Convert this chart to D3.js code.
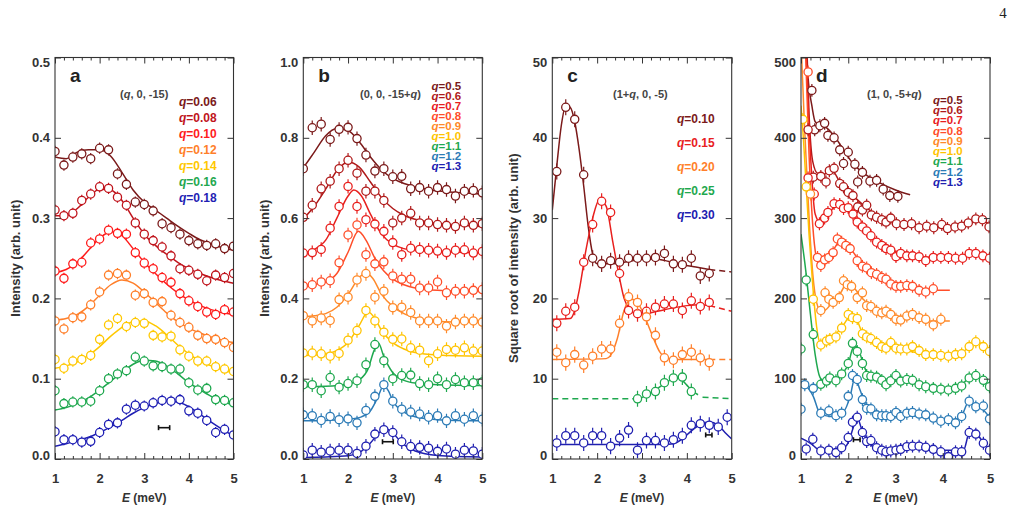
<!DOCTYPE html>
<html>
<head>
<meta charset="utf-8">
<script src="https://cdn.jsdelivr.net/npm/d3@7"></script>
<style>
    body { margin: 0; background: #fff; }
    svg { display: block; font-family: "Liberation Sans", Arial, sans-serif; }
</style>
</head>
<body>
<div id="chart-area"></div>
<script>
// ---------- shared ticks ----------
const xTicks = [1, 2, 3, 4, 5];
const xMinorTicks = [1.2, 1.4, 1.6, 1.8, 2.2, 2.4, 2.6, 2.8, 3.2, 3.4, 3.6, 3.8, 4.2, 4.4, 4.6, 4.8];

// ---------- panel a : (q, 0, -15) ----------
const aLabels = ['0.06', '0.08', '0.10', '0.12', '0.14', '0.16', '0.18'];
const aColors = ['#7b1a1a', '#c0141c', '#ff1c1c', '#ff7f2a', '#ffc800', '#1fa84f', '#1f1fb4'];
const aTicks = [0, 0.1, 0.2, 0.3, 0.4, 0.5];
const aEnergy = [1.0, 1.2, 1.4, 1.6, 1.8, 2.0, 2.2, 2.4, 2.6, 2.8, 3.0, 3.2, 3.4, 3.6, 3.8, 4.0, 4.2, 4.4, 4.6, 4.8, 5.0];
const aPoints = [
    [0.383, 0.366, 0.376, 0.380, 0.374, 0.387, 0.385, 0.355, 0.342, 0.320, 0.317, 0.309, 0.293, 0.288, 0.280, 0.272, 0.268, 0.266, 0.268, 0.262, 0.265],
    [0.310, 0.303, 0.306, 0.322, 0.330, 0.339, 0.337, 0.326, 0.316, 0.294, 0.280, 0.272, 0.264, 0.253, 0.237, 0.235, 0.230, 0.222, 0.229, 0.226, 0.231],
    [0.234, 0.225, 0.243, 0.245, 0.269, 0.274, 0.285, 0.281, 0.280, 0.257, 0.244, 0.237, 0.226, 0.220, 0.206, 0.197, 0.190, 0.183, 0.180, 0.186, 0.183],
    [0.172, 0.162, 0.176, 0.177, 0.192, 0.208, 0.229, 0.231, 0.229, 0.204, 0.206, 0.195, 0.196, 0.179, 0.170, 0.164, 0.154, 0.150, 0.149, 0.145, 0.139],
    [0.124, 0.113, 0.122, 0.124, 0.129, 0.149, 0.167, 0.175, 0.165, 0.170, 0.169, 0.154, 0.152, 0.153, 0.136, 0.128, 0.122, 0.122, 0.115, 0.112, 0.109],
    [0.085, 0.069, 0.071, 0.071, 0.072, 0.085, 0.100, 0.106, 0.110, 0.127, 0.122, 0.116, 0.115, 0.112, 0.112, 0.095, 0.086, 0.088, 0.074, 0.073, 0.070],
    [0.034, 0.024, 0.024, 0.021, 0.022, 0.033, 0.043, 0.045, 0.062, 0.067, 0.066, 0.070, 0.073, 0.072, 0.074, 0.060, 0.057, 0.048, 0.033, 0.037, 0.030]
];
const aFitEnergy = [1.0, 1.25, 1.5, 1.75, 2.0, 2.25, 2.5, 2.75, 3.0, 3.25, 3.5, 3.75, 4.0, 4.25, 4.5, 4.75, 5.0];
const aFits = [
    [0.376, 0.374, 0.382, 0.385, 0.385, 0.377, 0.357, 0.335, 0.320, 0.310, 0.300, 0.290, 0.281, 0.273, 0.268, 0.263, 0.260],
    [0.303, 0.303, 0.312, 0.326, 0.336, 0.335, 0.322, 0.300, 0.280, 0.266, 0.255, 0.245, 0.237, 0.231, 0.226, 0.222, 0.219],
    [0.232, 0.236, 0.245, 0.260, 0.275, 0.283, 0.278, 0.262, 0.245, 0.231, 0.218, 0.207, 0.198, 0.191, 0.186, 0.182, 0.180],
    [0.173, 0.175, 0.180, 0.190, 0.204, 0.217, 0.223, 0.219, 0.208, 0.195, 0.182, 0.171, 0.163, 0.157, 0.152, 0.148, 0.145],
    [0.113, 0.116, 0.121, 0.129, 0.140, 0.153, 0.164, 0.171, 0.172, 0.166, 0.155, 0.142, 0.131, 0.122, 0.116, 0.111, 0.107],
    [0.061, 0.064, 0.069, 0.076, 0.086, 0.097, 0.108, 0.118, 0.123, 0.122, 0.116, 0.106, 0.095, 0.086, 0.078, 0.072, 0.067],
    [0.016, 0.019, 0.023, 0.027, 0.033, 0.040, 0.048, 0.057, 0.064, 0.069, 0.072, 0.071, 0.065, 0.056, 0.046, 0.037, 0.029]
];

// ---------- panel b : (0, 0, -15+q) ----------
const bLabels = ['0.5', '0.6', '0.7', '0.8', '0.9', '1.0', '1.1', '1.2', '1.3'];
const bColors = ['#7b1a1a', '#b01a1a', '#e8201e', '#ff4e2a', '#ff8a2a', '#ffc300', '#1fa84f', '#2c7bb6', '#2020b0'];
const bTicks = [0, 0.2, 0.4, 0.6, 0.8, 1.0];
const bEnergy = aEnergy;
const bPoints = [
    [0.723, 0.825, 0.834, 0.796, 0.821, 0.826, 0.798, 0.757, 0.717, 0.723, 0.703, 0.704, 0.673, 0.676, 0.667, 0.676, 0.671, 0.655, 0.667, 0.669, 0.663],
    [0.602, 0.632, 0.673, 0.692, 0.723, 0.744, 0.712, 0.667, 0.667, 0.644, 0.588, 0.600, 0.612, 0.588, 0.588, 0.584, 0.582, 0.579, 0.588, 0.582, 0.586],
    [0.513, 0.514, 0.522, 0.575, 0.629, 0.679, 0.629, 0.596, 0.585, 0.567, 0.539, 0.509, 0.525, 0.522, 0.520, 0.518, 0.514, 0.520, 0.521, 0.513, 0.517],
    [0.431, 0.434, 0.441, 0.444, 0.489, 0.558, 0.583, 0.509, 0.486, 0.491, 0.456, 0.448, 0.448, 0.426, 0.426, 0.441, 0.414, 0.418, 0.418, 0.420, 0.422],
    [0.357, 0.344, 0.351, 0.345, 0.397, 0.403, 0.446, 0.462, 0.403, 0.418, 0.377, 0.378, 0.365, 0.344, 0.344, 0.344, 0.331, 0.341, 0.344, 0.344, 0.341],
    [0.264, 0.264, 0.262, 0.256, 0.263, 0.296, 0.320, 0.370, 0.344, 0.316, 0.298, 0.299, 0.277, 0.271, 0.245, 0.262, 0.273, 0.271, 0.277, 0.269, 0.269],
    [0.185, 0.185, 0.170, 0.203, 0.179, 0.188, 0.195, 0.235, 0.285, 0.245, 0.200, 0.208, 0.209, 0.188, 0.185, 0.200, 0.185, 0.198, 0.190, 0.190, 0.192],
    [0.110, 0.108, 0.096, 0.106, 0.098, 0.100, 0.090, 0.121, 0.156, 0.185, 0.144, 0.124, 0.117, 0.112, 0.104, 0.108, 0.095, 0.108, 0.099, 0.108, 0.099],
    [0.010, 0.022, 0.017, 0.020, 0.022, 0.022, 0.014, 0.032, 0.062, 0.073, 0.066, 0.043, 0.031, 0.029, 0.027, 0.019, 0.025, 0.012, 0.022, 0.020, 0.012]
];
const bFits = [
    [[1, 0.725], [1.25, 0.765], [1.5, 0.805], [1.75, 0.823], [2, 0.818], [2.25, 0.79], [2.5, 0.752], [2.75, 0.72], [3, 0.699], [3.25, 0.686], [3.5, 0.678], [3.75, 0.672], [4, 0.668], [4.5, 0.663], [5, 0.66]],
    [[1, 0.598], [1.25, 0.63], [1.5, 0.672], [1.75, 0.718], [2, 0.74], [2.25, 0.727], [2.5, 0.69], [2.75, 0.651], [3, 0.624], [3.25, 0.607], [3.5, 0.597], [4, 0.587], [4.5, 0.582], [5, 0.579]],
    [[1, 0.513], [1.25, 0.522], [1.5, 0.545], [1.75, 0.6], [2, 0.655], [2.13, 0.67], [2.3, 0.655], [2.5, 0.61], [2.75, 0.56], [3, 0.535], [3.25, 0.524], [3.5, 0.519], [4, 0.516], [5, 0.514]],
    [[1, 0.432], [1.25, 0.435], [1.5, 0.441], [1.75, 0.462], [2, 0.515], [2.23, 0.567], [2.4, 0.545], [2.6, 0.5], [2.8, 0.468], [3, 0.448], [3.25, 0.434], [3.5, 0.426], [4, 0.42], [5, 0.417]],
    [[1, 0.355], [1.25, 0.357], [1.5, 0.362], [1.75, 0.378], [2, 0.41], [2.25, 0.452], [2.4, 0.463], [2.55, 0.45], [2.75, 0.41], [3, 0.38], [3.25, 0.362], [3.5, 0.352], [3.75, 0.346], [4, 0.343], [4.5, 0.341], [5, 0.34]],
    [[1, 0.258], [1.25, 0.259], [1.5, 0.262], [1.75, 0.27], [2, 0.29], [2.25, 0.333], [2.45, 0.366], [2.6, 0.35], [2.75, 0.32], [3, 0.29], [3.25, 0.274], [3.5, 0.265], [4, 0.259], [5, 0.256]],
    [[1, 0.18], [1.5, 0.181], [2, 0.187], [2.25, 0.197], [2.45, 0.225], [2.58, 0.27], [2.68, 0.288], [2.8, 0.255], [3, 0.215], [3.25, 0.196], [3.5, 0.189], [4, 0.185], [5, 0.183]],
    [[1, 0.095], [1.5, 0.096], [2, 0.099], [2.3, 0.105], [2.5, 0.12], [2.65, 0.15], [2.8, 0.183], [2.9, 0.17], [3, 0.145], [3.25, 0.117], [3.5, 0.105], [4, 0.098], [5, 0.095]],
    [[1, 0.004], [1.5, 0.005], [2, 0.008], [2.25, 0.016], [2.5, 0.04], [2.7, 0.066], [2.85, 0.075], [3, 0.065], [3.2, 0.04], [3.5, 0.02], [4, 0.009], [5, 0.005]]
];

// ---------- panel c : (1+q, 0, -5), square root of intensity ----------
const cLabels = ['0.10', '0.15', '0.20', '0.25', '0.30'];
const cColors = ['#7b1a1a', '#e8201e', '#ff7f2a', '#1fa84f', '#2020b0'];
const cTicks = [0, 10, 20, 30, 40, 50];
const cEnergy = [1.1, 1.3, 1.5, 1.7, 1.9, 2.1, 2.3, 2.5, 2.7, 2.9, 3.1, 3.3, 3.5, 3.7, 3.9, 4.1, 4.3, 4.5, 4.7, 4.9];
const cPoints = [
    [35.8, 43.8, 42.3, 35.4, 25.0, 24.3, 24.7, 24.5, 25.0, 25.0, 25.0, 25.1, 25.6, 24.3, 24.2, 25.0, 22.8, 23.1, null, null],
    [16.9, 18.4, 18.9, 24.5, 29.2, 32.1, 30.7, 23.1, 18.5, 18.1, 18.4, 18.9, 19.3, 19.3, 18.5, 19.7, 19.0, 19.5, null, null],
    [13.3, 12.0, 13.0, 11.7, 12.8, 13.7, 13.7, 16.9, 20.2, 19.5, 17.7, 15.4, 12.6, 12.3, 13.0, 13.3, 12.6, 12.0, null, null],
    [null, null, null, null, null, null, null, null, null, 7.5, 8.1, 8.4, 9.5, 10.1, 10.2, 8.4, null, null, null, null],
    [2.0, 2.9, 2.9, 2.0, 2.9, 2.9, 1.6, 2.6, 3.6, 1.1, 2.3, 2.3, 2.0, 2.4, 2.9, 4.2, 4.4, 4.2, 4.0, 5.2]
];
const cFits = [
    [[[1.0, 31], [1.1, 36.5], [1.2, 41.5], [1.3, 44.0], [1.4, 43.8], [1.5, 42], [1.6, 38.5], [1.7, 34], [1.8, 29], [1.9, 25.5], [2.0, 24.3], [2.3, 24.3], [2.7, 24.6], [3.0, 24.9], [3.3, 24.9], [3.6, 24.6], [3.9, 24.2], [4.2, 23.9], [4.5, 23.6]]],
    [[[1.0, 17.4], [1.4, 17.5], [1.5, 18.5], [1.6, 21], [1.75, 26], [1.9, 30], [2.05, 32.3], [2.2, 31.5], [2.35, 27], [2.5, 22.5], [2.6, 20], [2.75, 18.5], [2.9, 18.0], [3.1, 18.1], [3.5, 18.6], [4.0, 19.1], [4.3, 19.2], [4.5, 19.1]]],
    [[[1.0, 12.4], [2.2, 12.5], [2.3, 12.9], [2.45, 15], [2.6, 18.5], [2.75, 19.9], [2.85, 19.8], [3.0, 18.5], [3.2, 15.8], [3.4, 13.3], [3.55, 12.5], [3.8, 12.4], [4.5, 12.4]]],
    [[[2.9, 7.5], [3.1, 7.9], [3.3, 8.6], [3.5, 9.4], [3.7, 10.0], [3.8, 10.1], [3.9, 9.8], [4.0, 9.2], [4.1, 8.6], [4.25, 8.0]]],
    [[[1.1, 1.8], [3.5, 1.8], [3.7, 1.9], [3.9, 2.5], [4.1, 3.5], [4.3, 4.3], [4.5, 4.6], [4.7, 4.2], [4.85, 3.3], [5.0, 2.5]]]
];
const cDashed = [
    [[[4.5, 23.6], [5.0, 23.3]]],
    [[[4.5, 19.1], [5.0, 18.4]]],
    [[[4.5, 12.4], [5.0, 12.4]]],
    [[[1.0, 7.5], [2.9, 7.5]], [[4.35, 7.7], [5.0, 7.5]]],
    []
];

// ---------- panel d : (1, 0, -5+q) ----------
const dLabels = bLabels;
const dColors = bColors;
const dTicks = [0, 100, 200, 300, 400, 500];
const dEnergy = [
    [1.23, 1.29, 1.4, 1.5, 1.57, 1.7, 1.82, 1.9, 2.0, 2.14, 2.2, 2.3, 2.46, 2.6, 2.74, 2.88, 3.05],
    [1.15, 1.26, 1.42, 1.53, 1.6, 1.7, 1.82, 1.9, 2.0, 2.1, 2.2, 2.3, 2.39, 2.49, 2.6, 2.71, 2.8, 2.9, 3.02, 3.18, 3.34, 3.5, 3.66, 3.81, 3.98, 4.1, 4.26, 4.4, 4.54, 4.7, 4.84, 4.98],
    [1.15, 1.28, 1.39, 1.5, 1.57, 1.7, 1.82, 1.9, 2.0, 2.1, 2.19, 2.3, 2.39, 2.48, 2.6, 2.71, 2.8, 2.9, 3.01, 3.11, 3.24, 3.36, 3.5, 3.64, 3.8, 3.96, 4.12, 4.27, 4.42, 4.56, 4.7, 4.85, 4.99],
    [1.15, 1.35, 1.42, 1.5, 1.59, 1.68, 1.77, 1.86, 1.95, 2.04, 2.19, 2.3, 2.39, 2.49, 2.6, 2.71, 2.8, 2.9, 3.01, 3.11, 3.24, 3.36, 3.5, 3.64, 3.8],
    [1.2, 1.42, 1.51, 1.59, 1.68, 1.81, 1.9, 1.98, 2.07, 2.19, 2.3, 2.39, 2.48, 2.6, 2.71, 2.8, 2.9, 3.01, 3.11, 3.24, 3.36, 3.5, 3.64, 3.8, 3.96],
    [1.04, 1.11, 1.26, 1.42, 1.54, 1.61, 1.74, 1.86, 2.0, 2.09, 2.19, 2.3, 2.39, 2.48, 2.6, 2.71, 2.8, 2.9, 3.01, 3.11, 3.24, 3.36, 3.5, 3.64, 3.8, 3.96, 4.12, 4.27, 4.4, 4.56, 4.7, 4.86, 4.99],
    [1.0, 1.11, 1.26, 1.42, 1.54, 1.61, 1.74, 1.86, 2.0, 2.09, 2.19, 2.3, 2.39, 2.48, 2.6, 2.71, 2.8, 2.9, 3.01, 3.11, 3.24, 3.36, 3.5, 3.64, 3.8, 3.96, 4.12, 4.27, 4.4, 4.56, 4.7, 4.86, 4.99],
    [1.0, 1.08, 1.26, 1.42, 1.59, 1.74, 1.86, 2.0, 2.09, 2.19, 2.3, 2.39, 2.48, 2.6, 2.71, 2.8, 2.9, 3.01, 3.11, 3.24, 3.36, 3.5, 3.64, 3.8, 3.96, 4.12, 4.27, 4.4, 4.56, 4.7, 4.86, 4.99],
    [1.11, 1.25, 1.42, 1.59, 1.74, 1.86, 2.0, 2.09, 2.19, 2.3, 2.39, 2.48, 2.6, 2.71, 2.8, 2.9, 3.01, 3.11, 3.24, 3.36, 3.5, 3.64, 3.8, 3.96, 4.12, 4.27, 4.4, 4.56, 4.7, 4.86, 4.99]
];
const dPoints = [
    [459, 410, 415, 418, 403, 400, 385, 368, 382, 367, 345, 357, 346, 347, 336, 328, 327],
    [410, 351, 352, 345, 359, 362, 343, 339, 332, 328, 314, 310, 316, 304, 301, 298, 295, 300, 293, 292, 293, 288, 290, 288, 292, 287, 289, 290, 294, 299, 298, 289],
    [350, 330, 293, 300, 307, 318, 317, 312, 313, 305, 295, 289, 284, 278, 270, 266, 262, 260, 252, 256, 253, 253, 252, 247, 251, 251, 251, 250, 250, 256, 256, 253, 250],
    [482, 251, 241, 248, 251, 257, 274, 270, 266, 262, 247, 240, 238, 232, 230, 226, 224, 218, 215, 215, 216, 215, 210, 208, 212],
    [330, 185, 207, 199, 195, 201, 222, 217, 215, 201, 207, 191, 190, 184, 182, 184, 180, 174, 173, 178, 180, 176, 174, 167, 174],
    [423, 339, 199, 142, 147, 149, 152, 163, 180, 176, 175, 156, 152, 150, 145, 140, 138, 145, 138, 137, 137, 140, 135, 130, 130, 129, 128, 130, 131, 140, 146, 140, 134],
    [137, 223, 155, 93, 97, 101, 97.5, 106, 119, 144, 134, 119, 104, 103, 102, 98, 92.5, 97.5, 104, 97, 99, 98, 92.5, 90, 88, 87, 86, 88, 91, 101, 104, 98, 90],
    [62, 92.5, 88, 57, 60, 54, 57, 78, 104, 99, 74, 63, 62.5, 55, 54, 54, 53, 58, 53, 57, 58, 56, 55, 51, 47, 49, 45, 53, 72, 65, 66, 50],
    [12.5, 24.6, 10, 11, 8, 14, 26.7, 45.8, 52, 33, 21.7, 23, 14, 11, 9, 10, 11, 12, 15.4, 16, 16, 14.6, 12, 9, 3, 9, 9, 33, 31, 19.6, 11]
];
const dFits = [
    [[[1.0, 600], [1.1, 520], [1.16, 468], [1.23, 440], [1.3, 420], [1.4, 416], [1.55, 412], [1.72, 401], [1.9, 385], [2.1, 368], [2.4, 353], [2.7, 343], [3.0, 335], [3.31, 329]]],
    [[[1.0, 700], [1.1, 560], [1.17, 430], [1.25, 370], [1.35, 356], [1.5, 355], [1.65, 360], [1.82, 345], [2.1, 328], [2.45, 310], [2.95, 295], [3.65, 289], [4.35, 288], [4.6, 294], [4.85, 297], [5.0, 291]]],
    [[[1.0, 700], [1.1, 520], [1.2, 380], [1.3, 305], [1.4, 295], [1.55, 303], [1.75, 315], [1.9, 313], [2.1, 302], [2.4, 283], [2.8, 264], [3.2, 255], [3.8, 251], [4.3, 250], [4.5, 252], [4.7, 256], [4.85, 254], [5.0, 249]]],
    [[[1.0, 700], [1.1, 500], [1.17, 380], [1.25, 290], [1.33, 250], [1.42, 240], [1.55, 246], [1.7, 262], [1.85, 272], [1.95, 270], [2.1, 258], [2.3, 242], [2.6, 230], [3.0, 217], [3.4, 213], [3.8, 210], [4.15, 210]]],
    [[[1.0, 520], [1.07, 420], [1.12, 360], [1.18, 290], [1.25, 230], [1.33, 195], [1.42, 184], [1.5, 185], [1.65, 194], [1.85, 208], [1.95, 217], [2.1, 214], [2.3, 200], [2.5, 189], [2.85, 183], [3.1, 176], [3.4, 178], [3.7, 172], [4.15, 172]]],
    [[[1.0, 440], [1.05, 400], [1.1, 350], [1.17, 280], [1.25, 215], [1.33, 165], [1.4, 145], [1.5, 143], [1.65, 150], [1.9, 167], [2.05, 178], [2.15, 176], [2.3, 157], [2.65, 140], [3.1, 136], [3.6, 131], [4.0, 128], [4.35, 130], [4.6, 142], [4.75, 145], [5.0, 134]]],
    [[[1.0, 280], [1.1, 235], [1.2, 180], [1.3, 130], [1.4, 102], [1.5, 96], [1.7, 97], [1.9, 108], [2.0, 118], [2.1, 138], [2.18, 140], [2.3, 122], [2.4, 107], [2.6, 100], [3.0, 97], [3.4, 95], [3.8, 88], [4.1, 86], [4.4, 92], [4.6, 103], [4.75, 102], [5.0, 90]]],
    [[[1.0, 97], [1.26, 78], [1.4, 57], [1.61, 53], [1.9, 59], [2.04, 78], [2.14, 101], [2.25, 86], [2.39, 65], [2.6, 57], [3.0, 54], [3.5, 53], [4.0, 49], [4.2, 48], [4.4, 54], [4.54, 70], [4.68, 67], [4.86, 61], [5.0, 51]]],
    [[[1.0, 25.8], [1.2, 19.6], [1.4, 11], [1.75, 9], [1.97, 17.5], [2.1, 38], [2.18, 53], [2.28, 38], [2.39, 24], [2.6, 14], [3.0, 12], [3.5, 14], [4.0, 11], [4.44, 11], [4.56, 32], [4.68, 33], [4.86, 20], [5.0, 11]]]
];

// error bar half-heights and instrumental resolution bars [E from, E to, level]
const errorBars = [0.007, 0.018, 1.0, 8];
const resolutionBars = [[3.32, 3.57, 0.039], [2.77, 3.01, 0.043], [4.42, 4.56, 3.0], [2.11, 2.25, 24]];

;(function () {
    'use strict';

    const WIDTH = 1014;
    const HEIGHT = 513;
    const TOP = 57.5;      // y of the top frame edge
    const BOTTOM = 459;    // y of the bottom frame edge
    const AXIS_COLOR = '#333';

    const svg = d3.select('#chart-area').append('svg')
        .attr('width', WIDTH)
        .attr('height', HEIGHT);

    const defs = svg.append('defs');

    // Turn the flat arrays into the series list each panel needs
    function gridSeries(labels, colors, energy, points, fits, fitEnergy) {
        return labels.map((q, i) => ({
            label: q,
            color: colors[i],
            points: energy.map((e, j) => [e, points[i][j]]).filter(d => d[1] !== null),
            fits: fitEnergy ? [fitEnergy.map((e, j) => [e, fits[i][j]])] : [fits[i]],
            dashed: []
        }));
    }

    const panels = [
        {
            letter: 'a', left: 55, right: 233.5, yMax: 0.5, yTicks: aTicks, fmt: d3.format('.1f'),
            yTitle: 'Intensity (arb. unit)', yTitleX: 20,
            hkl: '(q, 0, -15)', hklX: 120, legendX: 179, legendY: 101.7, legendDy: 16, legendSize: 12,
            series: gridSeries(aLabels, aColors, aEnergy, aPoints, aFits, aFitEnergy),
            err: errorBars[0], res: resolutionBars[0]
        },
        {
            letter: 'b', left: 303.3, right: 482.3, yMax: 1.0, yTicks: bTicks, fmt: d3.format('.1f'),
            yTitle: 'Intensity (arb. unit)', yTitleX: 269,
            hkl: '(0, 0, -15+q)', hklX: 360, legendX: 431.5, legendY: 85.5, legendDy: 10.1, legendSize: 11.5,
            series: gridSeries(bLabels, bColors, bEnergy, bPoints, bFits),
            err: errorBars[1], res: resolutionBars[1]
        },
        {
            letter: 'c', left: 552.3, right: 731.7, yMax: 50, yTicks: cTicks, fmt: d3.format('d'),
            yTitle: 'Square root of intensity (arb. unit)', yTitleX: 518,
            hkl: '(1+q, 0, -5)', hklX: 613, legendX: 677, legendY: 118.5, legendDy: 24, legendSize: 12,
            series: cLabels.map((q, i) => ({
                label: q,
                color: cColors[i],
                points: cEnergy.map((e, j) => [e, cPoints[i][j]]).filter(d => d[1] !== null),
                fits: cFits[i],
                dashed: cDashed[i]
            })),
            err: errorBars[2], res: resolutionBars[2]
        },
        {
            letter: 'd', left: 801, right: 990, yMax: 500, yTicks: dTicks, fmt: d3.format('d'),
            yTitle: null,
            hkl: '(1, 0, -5+q)', hklX: 867, legendX: 933, legendY: 99.5, legendDy: 10.3, legendSize: 11.5,
            series: dLabels.map((q, i) => ({
                label: q,
                color: dColors[i],
                points: dEnergy[i].map((e, j) => [e, dPoints[i][j]]),
                fits: dFits[i],
                dashed: []
            })),
            err: errorBars[3], res: resolutionBars[3]
        }
    ];

    // Write a label where every "q" is set in italics
    function italicQ(textSel, str) {
        str.split('q').forEach((part, i) => {
            if (i > 0) textSel.append('tspan').attr('font-style', 'italic').text('q');
            if (part) textSel.append('tspan').text(part);
        });
    }

    function drawPanel(p) {
        const x = d3.scaleLinear().domain([1, 5]).range([p.left, p.right]);
        const y = d3.scaleLinear().domain([0, p.yMax]).range([BOTTOM, TOP]);

        const group = svg.append('g').attr('class', 'panel ' + p.letter);

        const clipId = 'clip-' + p.letter;
        defs.append('clipPath').attr('id', clipId)
            .append('rect')
            .attr('x', p.left)
            .attr('y', TOP)
            .attr('width', p.right - p.left)
            .attr('height', BOTTOM - TOP);

        const plot = group.append('g').attr('clip-path', `url(#${clipId})`);

        const line = d3.line()
            .x(d => x(d[0]))
            .y(d => y(d[1]))
            .curve(d3.curveMonotoneX);

        // Fit curves first, so the open circles sit on top of them
        p.series.forEach(s => {
            s.fits.forEach(f => {
                plot.append('path')
                    .attr('d', line(f))
                    .attr('fill', 'none')
                    .attr('stroke', s.color)
                    .attr('stroke-width', 1.5);
            });
            s.dashed.forEach(f => {
                plot.append('path')
                    .attr('d', line(f))
                    .attr('fill', 'none')
                    .attr('stroke', s.color)
                    .attr('stroke-width', 1.5)
                    .attr('stroke-dasharray', '6,4');
            });
        });

        // Data points with error bars
        p.series.forEach(s => {
            const pts = plot.append('g')
                .selectAll('g')
                .data(s.points)
                .enter()
                .append('g');

            pts.append('line')
                .attr('x1', d => x(d[0]))
                .attr('x2', d => x(d[0]))
                .attr('y1', d => y(d[1] - p.err))
                .attr('y2', d => y(d[1] + p.err))
                .attr('stroke', s.color)
                .attr('stroke-width', 1.2);

            pts.append('circle')
                .attr('cx', d => x(d[0]))
                .attr('cy', d => y(d[1]))
                .attr('r', 4.1)
                .attr('fill', '#fff')
                .attr('stroke', s.color)
                .attr('stroke-width', 1.3);
        });

        // Resolution bar
        const rb = group.append('g').attr('stroke', '#111').attr('stroke-width', 1.6);
        rb.append('line')
            .attr('x1', x(p.res[0])).attr('x2', x(p.res[1]))
            .attr('y1', y(p.res[2])).attr('y2', y(p.res[2]));
        [p.res[0], p.res[1]].forEach(e => {
            rb.append('line')
                .attr('x1', x(e)).attr('x2', x(e))
                .attr('y1', y(p.res[2]) - 2.5).attr('y2', y(p.res[2]) + 2.5);
        });

        // Axes: ticks point inwards on all four sides
        const styleAxis = g => {
            g.select('.domain').remove();
            g.selectAll('line').attr('stroke', AXIS_COLOR);
            g.selectAll('text')
                .attr('font-size', 13)
                .attr('font-weight', 'bold')
                .attr('font-family', '"Liberation Sans", Arial, sans-serif')
                .attr('fill', AXIS_COLOR);
        };

        const yAxisLeft = group.append('g')
            .attr('transform', `translate(${p.left},0)`)
            .call(d3.axisLeft(y).tickValues(p.yTicks).tickSize(-6).tickPadding(5).tickFormat(p.fmt))
            .call(styleAxis);

        // keep the end labels inside the frame height
        yAxisLeft.selectAll('.tick text')
            .attr('y', d => d === 0 ? -3.5 : (d === p.yMax ? 5 : 0));

        group.append('g')
            .attr('transform', `translate(${p.right},0)`)
            .call(d3.axisRight(y).tickValues(p.yTicks).tickSize(-6).tickFormat(''))
            .call(styleAxis);

        // bottom: long ticks with labels at whole meV, short ones every 0.2 meV
        group.append('g')
            .attr('transform', `translate(0,${BOTTOM})`)
            .call(d3.axisBottom(x).tickValues(xTicks).tickSize(-6).tickPadding(15).tickFormat(d3.format('d')))
            .call(styleAxis);
        group.append('g')
            .attr('transform', `translate(0,${BOTTOM})`)
            .call(d3.axisBottom(x).tickValues(xMinorTicks).tickSize(-3).tickFormat(''))
            .call(styleAxis);

        group.append('g')
            .attr('transform', `translate(0,${TOP})`)
            .call(d3.axisTop(x).tickValues(xTicks).tickSize(-6).tickFormat(''))
            .call(styleAxis);
        group.append('g')
            .attr('transform', `translate(0,${TOP})`)
            .call(d3.axisTop(x).tickValues(xMinorTicks).tickSize(-3).tickFormat(''))
            .call(styleAxis);

        // Frame
        group.append('rect')
            .attr('x', p.left)
            .attr('y', TOP)
            .attr('width', p.right - p.left)
            .attr('height', BOTTOM - TOP)
            .attr('fill', 'none')
            .attr('stroke', AXIS_COLOR)
            .attr('stroke-width', 1.1);

        // X axis label
        const xLabel = group.append('text')
            .attr('x', (p.left + p.right) / 2)
            .attr('y', 502)
            .attr('text-anchor', 'middle')
            .attr('font-size', 12)
            .attr('font-weight', 'bold')
            .attr('fill', AXIS_COLOR);
        xLabel.append('tspan').attr('font-style', 'italic').text('E');
        xLabel.append('tspan').text(' (meV)');

        // Y axis label
        if (p.yTitle) {
            group.append('text')
                .attr('transform', `translate(${p.yTitleX},${(TOP + BOTTOM) / 2}) rotate(-90)`)
                .attr('text-anchor', 'middle')
                .attr('font-size', 13)
                .attr('font-weight', 'bold')
                .attr('fill', AXIS_COLOR)
                .text(p.yTitle);
        }

        // Panel letter
        group.append('text')
            .attr('x', p.left + 15)
            .attr('y', 82)
            .attr('font-size', 19)
            .attr('font-weight', 'bold')
            .attr('fill', '#222')
            .text(p.letter);

        // Scattering vector
        const hkl = group.append('text')
            .attr('x', p.hklX)
            .attr('y', 98)
            .attr('font-size', 11)
            .attr('font-weight', 'bold')
            .attr('fill', '#444');
        italicQ(hkl, p.hkl);

        // Legend
        p.series.forEach((s, i) => {
            const t = group.append('text')
                .attr('x', p.legendX)
                .attr('y', p.legendY + i * p.legendDy)
                .attr('dy', '0.36em')
                .attr('font-size', p.legendSize)
                .attr('font-weight', 'bold')
                .attr('fill', s.color);
            italicQ(t, 'q=' + s.label);
        });
    }

    panels.forEach(drawPanel);

    // Page number
    svg.append('text')
        .attr('x', 1003)
        .attr('y', 18)
        .attr('text-anchor', 'middle')
        .attr('font-family', '"Liberation Serif", "DejaVu Serif", serif')
        .attr('font-size', 15)
        .attr('fill', '#222')
        .text('4');
})();
</script>
</body>
</html>
